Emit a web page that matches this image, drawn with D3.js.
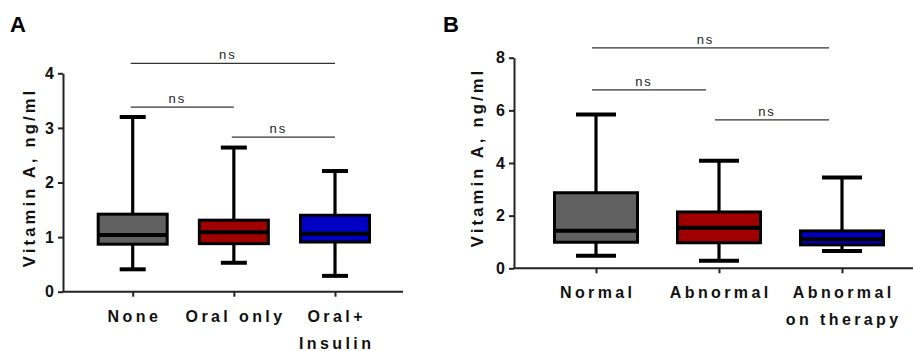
<!DOCTYPE html>
<html>
<head>
<meta charset="utf-8">
<script src="https://cdn.jsdelivr.net/npm/d3@7/dist/d3.min.js"></script>
<style>
  body { margin: 0; background: #fff; }
  svg { display: block; font-family: "Liberation Sans", Arial, sans-serif; }
</style>
</head>
<body>
<svg id="chart" width="913" height="351"></svg>
<script>
// panel A - diabetes treatment
const catsA = [["None"], ["Oral only"], ["Oral+", "Insulin"]];
const minA = [0.41, 0.53, 0.29];
const q1A = [0.87, 0.88, 0.91];
const medA = [1.04, 1.09, 1.06];
const q3A = [1.42, 1.31, 1.40];
const maxA = [3.20, 2.64, 2.21];
const ticksA = [0, 1, 2, 3, 4];
// comparisons: [from, to, level]
const sigA = [[0, 2, 4.18], [0, 1, 3.38], [1, 2, 2.83]];
const sigTextA = ["ns", "ns", "ns"];

// panel B - glucose status
const catsB = [["Normal"], ["Abnormal"], ["Abnormal", "on therapy"]];
const minB = [0.48, 0.29, 0.66];
const q1B = [0.99, 0.97, 0.89];
const medB = [1.43, 1.54, 1.10];
const q3B = [2.87, 2.14, 1.42];
const maxB = [5.84, 4.09, 3.45];
const ticksB = [0, 2, 4, 6, 8];
const sigB = [[0, 2, 8.37], [0, 1, 6.78], [1, 2, 5.64]];
const sigTextB = ["ns", "ns", "ns"];

const colors = ["#616161", "#a00000", "#0000c4"];
const yTitle = "Vitamin A, ng/ml";

const svg = d3.select("#chart");

function drawPanel(cfg) {
  const g = svg.append("g");
  const y = d3.scaleLinear().domain(cfg.yDomain).range([cfg.bottom, cfg.top]);
  const names = cfg.cats.map(c => c.join(" "));
  const x = d3.scalePoint().domain(names).range(cfg.xRange);

  // panel letter
  g.append("text")
    .attr("x", cfg.letterX).attr("y", 32)
    .attr("font-size", 22).attr("font-weight", "bold")
    .text(cfg.letter);

  // y axis
  const ya = g.append("g")
    .attr("transform", "translate(" + cfg.left + ",0)")
    .call(d3.axisLeft(y).tickValues(cfg.ticks).tickFormat(d3.format("d"))
      .tickSize(5).tickPadding(4).tickSizeOuter(0));
  ya.attr("font-size", 16).attr("font-family", null);
  ya.select(".domain").attr("stroke", "#222").attr("stroke-width", 2);
  ya.selectAll(".tick line").attr("stroke", "#222").attr("stroke-width", 2);
  ya.selectAll(".tick text")
    .attr("font-weight", "bold").attr("fill", "#111");

  // y title
  g.append("text")
    .attr("transform", "translate(" + cfg.titleX + "," + cfg.titleY + ") rotate(-90)")
    .attr("text-anchor", "middle")
    .attr("dx", 1.6)
    .attr("font-size", 16.5).attr("font-weight", "bold")
    .style("letter-spacing", "3.2px")
    .attr("fill", "#111")
    .text(yTitle);

  // x axis
  const xa = g.append("g")
    .attr("transform", "translate(0," + cfg.bottom + ")")
    .call(d3.axisBottom(x).tickSize(5).tickSizeOuter(0).tickFormat(""));
  xa.select(".domain").remove();
  xa.selectAll(".tick line").attr("stroke", "#222").attr("stroke-width", 2);
  g.append("line")
    .attr("x1", cfg.left).attr("x2", cfg.right)
    .attr("y1", cfg.bottom).attr("y2", cfg.bottom)
    .attr("stroke", "#222").attr("stroke-width", 2);

  // category labels (may be two lines)
  cfg.cats.forEach((lines, i) => {
    const t = g.append("text")
      .attr("text-anchor", "middle")
      .attr("font-size", 16).attr("font-weight", "bold")
      .style("letter-spacing", "3.4px")
      .attr("fill", "#111");
    lines.forEach((ln, j) => {
      t.append("tspan")
        .attr("x", x(names[i]) + 1.7)
        .attr("y", cfg.bottom + 30 + j * 27)
        .text(ln);
    });
  });

  // boxes
  const rows = names.map((n, i) => ({
    name: n, min: cfg.min[i], q1: cfg.q1[i], med: cfg.med[i], q3: cfg.q3[i], max: cfg.max[i], color: colors[i]
  }));
  const bw = cfg.boxW, cw = cfg.capW;
  const box = g.selectAll(".box").data(rows).enter().append("g").attr("class", "box");

  box.append("line")
    .attr("x1", d => x(d.name)).attr("x2", d => x(d.name))
    .attr("y1", d => y(d.max)).attr("y2", d => y(d.q3))
    .attr("stroke", "#000").attr("stroke-width", 3.2);
  box.append("line")
    .attr("x1", d => x(d.name)).attr("x2", d => x(d.name))
    .attr("y1", d => y(d.q1)).attr("y2", d => y(d.min))
    .attr("stroke", "#000").attr("stroke-width", 3.2);
  ["max", "min"].forEach(k => {
    box.append("line")
      .attr("x1", d => x(d.name) - cw / 2).attr("x2", d => x(d.name) + cw / 2)
      .attr("y1", d => y(d[k])).attr("y2", d => y(d[k]))
      .attr("stroke", "#000").attr("stroke-width", 4);
  });
  box.append("rect")
    .attr("x", d => x(d.name) - bw / 2)
    .attr("width", bw)
    .attr("y", d => y(d.q3))
    .attr("height", d => y(d.q1) - y(d.q3))
    .attr("fill", d => d.color)
    .attr("stroke", "#000").attr("stroke-width", 3);
  box.append("line")
    .attr("x1", d => x(d.name) - bw / 2).attr("x2", d => x(d.name) + bw / 2)
    .attr("y1", d => y(d.med)).attr("y2", d => y(d.med))
    .attr("stroke", "#000").attr("stroke-width", 4);

  // significance brackets
  cfg.sig.forEach((s, i) => {
    const x1 = x(names[s[0]]) + cfg.sigInset[0];
    const x2 = x(names[s[1]]) + cfg.sigInset[1];
    const yy = y(s[2]);
    g.append("line")
      .attr("x1", x1).attr("x2", x2).attr("y1", yy).attr("y2", yy)
      .attr("stroke", "#333").attr("stroke-width", 1.3);
    g.append("text")
      .attr("x", (x1 + x2) / 2 - 5).attr("y", yy - 4)
      .attr("text-anchor", "middle")
      .attr("font-size", 13)
      .style("letter-spacing", "2px")
      .attr("fill", "#222")
      .text(cfg.sigText[i]);
  });
}

drawPanel({
  letter: "A", letterX: 10,
  cats: catsA, min: minA, q1: q1A, med: medA, q3: q3A, max: maxA,
  ticks: ticksA, yDomain: [0, 4], sig: sigA, sigText: sigTextA,
  left: 63, right: 403, top: 73.3, bottom: 291.7,
  xRange: [132.7, 335], boxW: 69, capW: 26,
  titleX: 35, titleY: 179, sigInset: [-2, 0]
});

drawPanel({
  letter: "B", letterX: 443,
  cats: catsB, min: minB, q1: q1B, med: medB, q3: q3B, max: maxB,
  ticks: ticksB, yDomain: [0, 8], sig: sigB, sigText: sigTextB,
  left: 514, right: 913, top: 57.7, bottom: 268.3,
  xRange: [596, 842], boxW: 83, capW: 40,
  titleX: 483, titleY: 159, sigInset: [-4, -13]
});
</script>
</body>
</html>
